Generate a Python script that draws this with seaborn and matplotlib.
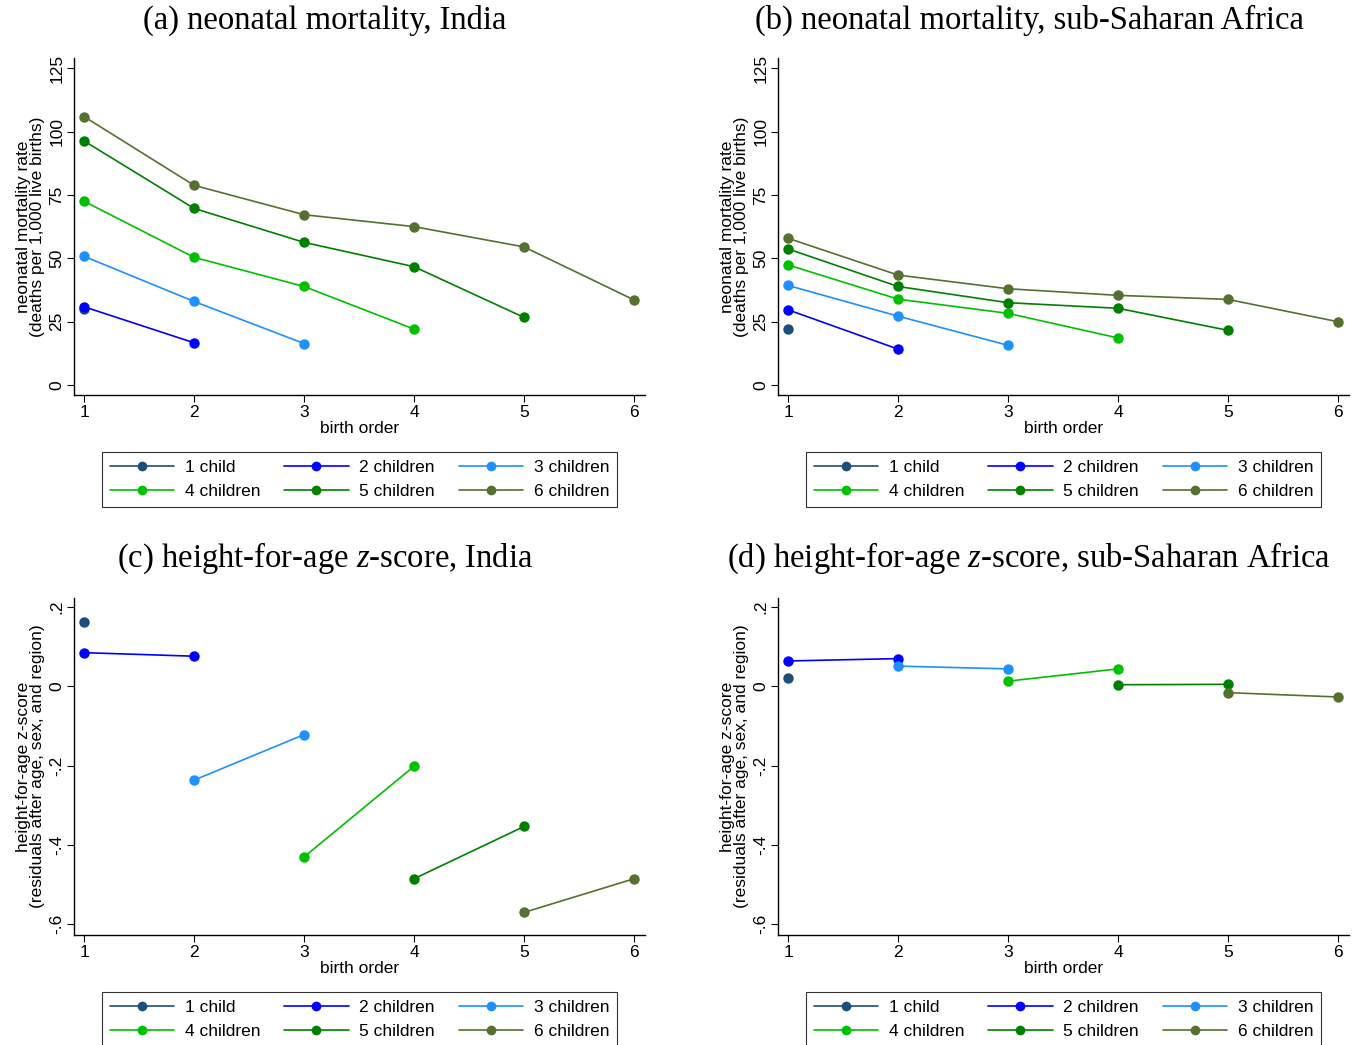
import numpy as np
import pandas as pd
import matplotlib
matplotlib.use("Agg")
import matplotlib.pyplot as plt
from matplotlib.lines import Line2D
import seaborn as sns

# ---------------- data ----------------
groups = ["1 child", "2 children", "3 children", "4 children", "5 children", "6 children"]
colors = ["#1f4e79", "#0000ff", "#1e90ff", "#00c000", "#008000", "#55702f"]

# neonatal mortality (deaths per 1,000 live births), birth orders 1..k
nmr_india = [
    [30.0],
    [30.9, 16.7],
    [50.8, 33.0, 16.4],
    [72.5, 50.4, 38.9, 22.1],
    [96.3, 69.7, 56.3, 46.7, 26.7],
    [105.9, 78.8, 67.2, 62.5, 54.5, 33.6],
]
nmr_ssa = [
    [22.1],
    [29.7, 14.2],
    [39.3, 27.2, 15.7],
    [47.4, 33.9, 28.3, 18.6],
    [53.7, 38.9, 32.5, 30.3, 21.6],
    [57.9, 43.4, 38.0, 35.4, 33.8, 25.0],
]
# height-for-age z-score residuals, birth orders k-1 and k
haz_orders = [[1], [1, 2], [2, 3], [3, 4], [4, 5], [5, 6]]
haz_india = [
    [0.163],
    [0.085, 0.076],
    [-0.237, -0.122],
    [-0.431, -0.202],
    [-0.486, -0.354],
    [-0.571, -0.486],
]
haz_ssa = [
    [0.021],
    [0.064, 0.070],
    [0.051, 0.044],
    [0.013, 0.044],
    [0.004, 0.005],
    [-0.016, -0.027],
]

titles = [
    "(a) neonatal mortality, India",
    "(b) neonatal mortality, sub-Saharan Africa",
    "(c) height-for-age $z$-score, India",
    "(d) height-for-age $z$-score, sub-Saharan Africa",
]
nmr_ticks = [0, 25, 50, 75, 100, 125]
nmr_ticklabels = ["0", "25", "50", "75", "100", "125"]
haz_ticks = [-0.6, -0.4, -0.2, 0.0, 0.2]
haz_ticklabels = ["-.6", "-.4", "-.2", "0", ".2"]
x_ticks = [1, 2, 3, 4, 5, 6]


def build_df(values, orders=None):
    rows = []
    for g, vals in enumerate(values):
        ords = orders[g] if orders is not None else list(range(1, len(vals) + 1))
        for o, v in zip(ords, vals):
            rows.append({"order": o, "value": v, "group": groups[g]})
    return pd.DataFrame(rows)


# ---------------- style ----------------
sns.set_theme(style="white")
plt.rcParams["font.family"] = ["Liberation Sans", "DejaVu Sans"]
plt.rcParams["text.color"] = "black"
plt.rcParams["axes.labelcolor"] = "black"
plt.rcParams["mathtext.fontset"] = "custom"
plt.rcParams["mathtext.rm"] = "Liberation Serif"
plt.rcParams["mathtext.it"] = "Liberation Serif:italic"

FS = 12.5
W, H = 1355, 1045
fig = plt.figure(figsize=(W / 100, H / 100), dpi=100)
fig.patch.set_facecolor("white")

palette = dict(zip(groups, colors))

panels = [
    (build_df(nmr_india), 74, 58, "nmr"),
    (build_df(nmr_ssa), 778, 58, "nmr"),
    (build_df(haz_india, haz_orders), 74, 598, "haz"),
    (build_df(haz_ssa, haz_orders), 778, 598, "haz"),
]
title_pos = [(325, 20), (1029, 20), (325, 558), (1029, 558)]

for i, (df, lx, ty, kind) in enumerate(panels):
    aw, ah = 571, 337
    ax = fig.add_axes([lx / W, 1 - (ty + ah) / H, aw / W, ah / H])
    sns.lineplot(data=df, x="order", y="value", hue="group", hue_order=groups,
                 palette=palette, marker="o", markersize=7.5, markeredgewidth=0,
                 linewidth=1.2, estimator=None, sort=True, legend=False, ax=ax)
    ax.set_xlim(0.909, 6.1)
    ax.set_xticks(x_ticks)
    ax.set_xticklabels([str(t) for t in x_ticks], fontsize=FS)
    if kind == "nmr":
        ax.set_ylim(-3.9, 129)
        ax.set_yticks(nmr_ticks)
        ax.set_yticklabels(nmr_ticklabels, fontsize=FS, rotation=90, va="center")
        ax.set_ylabel("neonatal mortality rate\n(deaths per 1,000 live births)",
                      fontsize=FS, labelpad=3, linespacing=0.95)
    else:
        ax.set_ylim(-0.628, 0.223)
        ax.set_yticks(haz_ticks)
        ax.set_yticklabels(haz_ticklabels, fontsize=FS, rotation=90, va="center")
        ax.set_ylabel("height-for-age z-score\n(residuals after age, sex, and region)",
                      fontsize=FS, labelpad=3, linespacing=0.95)
    ax.set_xlabel("birth order", fontsize=FS, labelpad=1)
    for s in ["top", "right"]:
        ax.spines[s].set_visible(False)
    for s in ["left", "bottom"]:
        ax.spines[s].set_color("black")
        ax.spines[s].set_linewidth(1.0)
    ax.tick_params(axis="both", which="major", direction="out", length=5,
                   width=0.8, color="black", labelcolor="black", left=True, bottom=True, pad=2)
    ax.grid(False)

    handles = [Line2D([0], [0], color=c, marker="o", markersize=7, markeredgewidth=0,
                      linewidth=1.2) for c in colors]
    order = [0, 3, 1, 4, 2, 5]
    leg = ax.legend([handles[k] for k in order], [groups[k] for k in order],
                    loc="upper center", bbox_to_anchor=(0.5, -0.17), ncol=3,
                    fontsize=FS, frameon=True, fancybox=False, handlelength=3.7,
                    handletextpad=0.6, columnspacing=1.4, borderpad=0.45,
                    labelspacing=0.5, borderaxespad=0)
    leg.get_frame().set_edgecolor("black")
    leg.get_frame().set_linewidth(0.8)

    tx, tyy = title_pos[i]
    fig.text(tx / W, 1 - tyy / H, titles[i], ha="center", va="center",
             fontsize=23.5, family="Liberation Serif", color="black")

fig.savefig("out.png", dpi=100, facecolor="white")
